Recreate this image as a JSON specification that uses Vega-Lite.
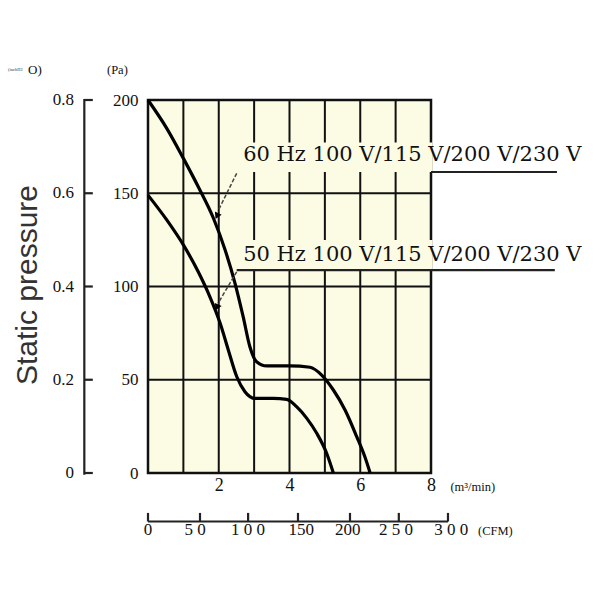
{
  "$schema": "https://vega.github.io/schema/vega-lite/v6.json",
  "width": 283,
  "height": 373,
  "autosize": "none",
  "padding": {"left": 148, "top": 100, "right": 169, "bottom": 127},
  "background": "white",
  "config": {"view": {"stroke": null}},
  "datasets": {
    "bg": [{"x": 0, "x2": 8, "y": 0, "y2": 200}],
    "grid": [
      {"x": 1, "x2": 1, "y": 0, "y2": 200},
      {"x": 2, "x2": 2, "y": 0, "y2": 200},
      {"x": 3, "x2": 3, "y": 0, "y2": 200},
      {"x": 4, "x2": 4, "y": 0, "y2": 200},
      {"x": 5, "x2": 5, "y": 0, "y2": 200},
      {"x": 6, "x2": 6, "y": 0, "y2": 200},
      {"x": 7, "x2": 7, "y": 0, "y2": 200},
      {"x": 0, "x2": 8, "y": 50, "y2": 50},
      {"x": 0, "x2": 8, "y": 100, "y2": 100},
      {"x": 0, "x2": 8, "y": 150, "y2": 150}
    ],
    "covers": [
      {"x": 2.6, "x2": 8.04, "y": 161.4, "y2": 177.2},
      {"x": 2.6, "x2": 8.04, "y": 108.8, "y2": 124.9}
    ],
    "curves": [
      {"series": "60 Hz", "x": 0, "y": 200},
      {"series": "60 Hz", "x": 0.53, "y": 184.8},
      {"series": "60 Hz", "x": 1.0, "y": 168.7},
      {"series": "60 Hz", "x": 1.42, "y": 153.5},
      {"series": "60 Hz", "x": 1.85, "y": 136.6},
      {"series": "60 Hz", "x": 2.18, "y": 119.6},
      {"series": "60 Hz", "x": 2.46, "y": 101.7},
      {"series": "60 Hz", "x": 2.69, "y": 83.8},
      {"series": "60 Hz", "x": 2.88, "y": 67.7},
      {"series": "60 Hz", "x": 3.07, "y": 59.7},
      {"series": "60 Hz", "x": 3.36, "y": 57.4},
      {"series": "60 Hz", "x": 4.01, "y": 57.4},
      {"series": "60 Hz", "x": 4.58, "y": 56.7},
      {"series": "60 Hz", "x": 4.91, "y": 52.5},
      {"series": "60 Hz", "x": 5.24, "y": 44.5},
      {"series": "60 Hz", "x": 5.57, "y": 33.8},
      {"series": "60 Hz", "x": 5.9, "y": 19.5},
      {"series": "60 Hz", "x": 6.13, "y": 8.7},
      {"series": "60 Hz", "x": 6.28, "y": 0},
      {"series": "50 Hz", "x": 0, "y": 149},
      {"series": "50 Hz", "x": 0.53, "y": 135.7},
      {"series": "50 Hz", "x": 1.0, "y": 122.3},
      {"series": "50 Hz", "x": 1.42, "y": 107.9},
      {"series": "50 Hz", "x": 1.75, "y": 94.5},
      {"series": "50 Hz", "x": 2.04, "y": 80.3},
      {"series": "50 Hz", "x": 2.27, "y": 66},
      {"series": "50 Hz", "x": 2.51, "y": 51.6},
      {"series": "50 Hz", "x": 2.74, "y": 43.6},
      {"series": "50 Hz", "x": 3.03, "y": 40},
      {"series": "50 Hz", "x": 3.54, "y": 40},
      {"series": "50 Hz", "x": 3.92, "y": 39.5},
      {"series": "50 Hz", "x": 4.2, "y": 35.6},
      {"series": "50 Hz", "x": 4.49, "y": 29.3},
      {"series": "50 Hz", "x": 4.77, "y": 21.3},
      {"series": "50 Hz", "x": 5.05, "y": 10.6},
      {"series": "50 Hz", "x": 5.24, "y": 0}
    ],
    "leaders": [
      {"x": 2.507, "y": 160.7, "x2": 1.98, "y2": 140.5},
      {"x": 2.507, "y": 107.9, "x2": 1.98, "y2": 91}
    ],
    "arrows": [
      {"x": 1.96, "y": 138.3},
      {"x": 1.96, "y": 89.3}
    ],
    "hlines": [
      {"x": 8, "x2": 11.56, "y": 161.4, "y2": 161.4},
      {"x": 2.507, "x2": 11.5, "y": 108.8, "y2": 108.8}
    ],
    "labels": [
      {"x": 2.69, "y": 167.3, "text": "60 Hz 100 V/115 V/200 V/230 V"},
      {"x": 2.69, "y": 113.7, "text": "50 Hz 100 V/115 V/200 V/230 V"}
    ],
    "inchaxis": [
      {"x": -1.8, "x2": -1.8, "y": -1, "y2": 200.5},
      {"x": -1.8, "x2": -1.56, "y": 0, "y2": 0},
      {"x": -1.8, "x2": -1.56, "y": 50, "y2": 50},
      {"x": -1.8, "x2": -1.56, "y": 100, "y2": 100},
      {"x": -1.8, "x2": -1.56, "y": 150, "y2": 150},
      {"x": -1.8, "x2": -1.56, "y": 200, "y2": 200}
    ],
    "inchlabels": [
      {"x": -2.09, "y": 0, "text": "0"},
      {"x": -2.09, "y": 50, "text": "0.2"},
      {"x": -2.09, "y": 100, "text": "0.4"},
      {"x": -2.09, "y": 150, "text": "0.6"},
      {"x": -2.09, "y": 200, "text": "0.8"}
    ],
    "cfmaxis": [
      {"x": 0, "x2": 8.48, "y": -26, "y2": -26},
      {"x": 0, "x2": 0, "y": -26, "y2": -21.4},
      {"x": 1.47, "x2": 1.47, "y": -26, "y2": -21.4},
      {"x": 2.83, "x2": 2.83, "y": -26, "y2": -21.4},
      {"x": 4.24, "x2": 4.24, "y": -26, "y2": -21.4},
      {"x": 5.71, "x2": 5.71, "y": -26, "y2": -21.4},
      {"x": 7.09, "x2": 7.09, "y": -26, "y2": -21.4},
      {"x": 8.48, "x2": 8.48, "y": -26, "y2": -21.4}
    ],
    "cfmlabels": [
      {"x": 0, "y": -30.6, "text": "0"},
      {"x": 1.33, "y": -30.6, "text": "5 0"},
      {"x": 2.83, "y": -30.6, "text": "1 0 0"},
      {"x": 4.33, "y": -30.6, "text": "150"},
      {"x": 5.65, "y": -30.6, "text": "200"},
      {"x": 7.01, "y": -30.6, "text": "2 5 0"},
      {"x": 8.57, "y": -30.6, "text": "3 0 0"}
    ],
    "units": [
      {"x": 8.55, "y": -7.5, "text": "(m³/min)"},
      {"x": 9.33, "y": -31, "text": "(CFM)"},
      {"x": -1.16, "y": 216.1, "text": "(Pa)"}
    ],
    "inchunit_small": [{"x": -3.96, "y": 216.1, "text": "(inchH2"}],
    "inchunit_big": [{"x": -3.39, "y": 216.1, "text": "O)"}],
    "ytitle": [{"x": -3.39, "y": 100.8, "text": "Static pressure"}]
  },
  "encoding": {
    "x": {"field": "x", "type": "quantitative",
          "scale": {"domain": [0, 8], "nice": false, "zero": false},
          "axis": {"values": [2, 4, 6, 8], "grid": false, "domain": false, "ticks": false,
                   "labelFlush": false, "labelBound": false, "labelOverlap": false,
                   "labelPadding": 3, "labelFont": "Liberation Serif", "labelFontSize": 18,
                   "labelColor": "#111", "title": null}},
    "y": {"field": "y", "type": "quantitative",
          "scale": {"domain": [0, 200], "nice": false, "zero": false},
          "axis": {"values": [0, 50, 100, 150, 200], "grid": false, "domain": false, "ticks": false,
                   "labelFlush": false, "labelOverlap": false,
                   "labelPadding": 10, "labelFont": "Liberation Serif", "labelFontSize": 17,
                   "labelColor": "#111", "title": null}}
  },
  "layer": [
    {
      "data": {"name": "bg"},
      "mark": {"type": "rect", "fill": "#FCFBE3"},
      "encoding": {"x2": {"field": "x2"}, "y2": {"field": "y2"}}
    },
    {
      "data": {"name": "grid"},
      "mark": {"type": "rule", "color": "#111", "strokeWidth": 2},
      "encoding": {"x2": {"field": "x2"}, "y2": {"field": "y2"}}
    },
    {
      "data": {"name": "bg"},
      "mark": {"type": "rect", "fillOpacity": 0, "stroke": "#111", "strokeWidth": 2.5},
      "encoding": {"x2": {"field": "x2"}, "y2": {"field": "y2"}}
    },
    {
      "data": {"name": "covers"},
      "mark": {"type": "rect", "fill": "#FCFBE3"},
      "encoding": {"x2": {"field": "x2"}, "y2": {"field": "y2"}}
    },
    {
      "data": {"name": "curves"},
      "mark": {"type": "line", "color": "#000", "strokeWidth": 3.2, "interpolate": "monotone"},
      "encoding": {"detail": {"field": "series", "type": "nominal"}}
    },
    {
      "data": {"name": "leaders"},
      "mark": {"type": "rule", "color": "#444", "strokeWidth": 1.5, "strokeDash": [4, 2]},
      "encoding": {"x2": {"field": "x2"}, "y2": {"field": "y2"}}
    },
    {
      "data": {"name": "arrows"},
      "mark": {"type": "point", "shape": "triangle", "filled": true, "color": "#000", "size": 55, "angle": 205, "opacity": 1},
      "encoding": {}
    },
    {
      "data": {"name": "hlines"},
      "mark": {"type": "rule", "color": "#222", "strokeWidth": 2.2},
      "encoding": {"x2": {"field": "x2"}, "y2": {"field": "y2"}}
    },
    {
      "data": {"name": "labels"},
      "mark": {"type": "text", "align": "left", "baseline": "alphabetic", "font": "DejaVu Serif", "fontSize": 21, "color": "#111"},
      "encoding": {"text": {"field": "text"}}
    },
    {
      "data": {"name": "inchaxis"},
      "mark": {"type": "rule", "color": "#222", "strokeWidth": 2.2},
      "encoding": {"x2": {"field": "x2"}, "y2": {"field": "y2"}}
    },
    {
      "data": {"name": "inchlabels"},
      "mark": {"type": "text", "align": "right", "baseline": "middle", "font": "Liberation Serif", "fontSize": 17, "color": "#111"},
      "encoding": {"text": {"field": "text"}}
    },
    {
      "data": {"name": "cfmaxis"},
      "mark": {"type": "rule", "color": "#222", "strokeWidth": 2.2},
      "encoding": {"x2": {"field": "x2"}, "y2": {"field": "y2"}}
    },
    {
      "data": {"name": "cfmlabels"},
      "mark": {"type": "text", "align": "center", "baseline": "middle", "font": "Liberation Serif", "fontSize": 17, "color": "#111"},
      "encoding": {"text": {"field": "text"}}
    },
    {
      "data": {"name": "units"},
      "mark": {"type": "text", "align": "left", "baseline": "middle", "font": "Liberation Serif", "fontSize": 12.5, "color": "#111"},
      "encoding": {"text": {"field": "text"}}
    },
    {
      "data": {"name": "inchunit_small"},
      "mark": {"type": "text", "align": "left", "baseline": "middle", "font": "Liberation Serif", "fontSize": 4.5, "color": "#333"},
      "encoding": {"text": {"field": "text"}}
    },
    {
      "data": {"name": "inchunit_big"},
      "mark": {"type": "text", "align": "left", "baseline": "middle", "font": "Liberation Serif", "fontSize": 13, "color": "#111"},
      "encoding": {"text": {"field": "text"}}
    },
    {
      "data": {"name": "ytitle"},
      "mark": {"type": "text", "align": "center", "baseline": "middle", "angle": 270, "font": "Liberation Sans", "fontSize": 30, "color": "#333"},
      "encoding": {"text": {"field": "text"}}
    }
  ]
}
